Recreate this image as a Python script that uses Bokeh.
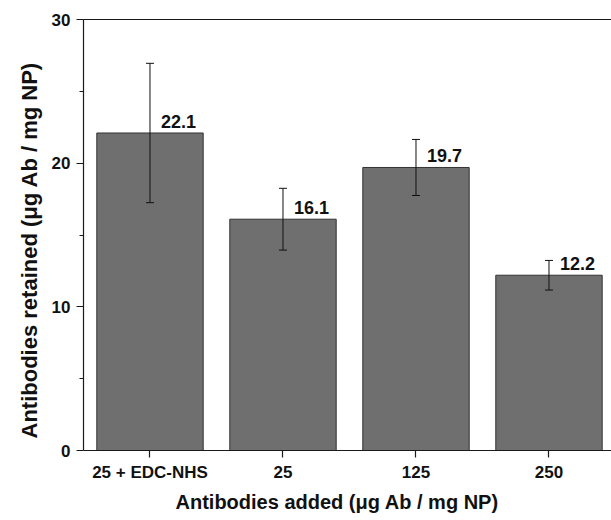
from bokeh.plotting import figure
from bokeh.models import (ColumnDataSource, Range1d, FixedTicker,
                          LinearAxis, Whisker, TeeHead, Title)
from bokeh.core.properties import value
from bokeh.embed import file_html
from bokeh.resources import INLINE

categories = ["25 + EDC-NHS", "25", "125", "250"]
values = [22.1, 16.1, 19.7, 12.2]
errors = [4.85, 2.15, 1.95, 1.03]
value_labels = ["22.1", "16.1", "19.7", "12.2"]
y_ticks = [0, 10, 20, 30]
y_minor_ticks = [5, 15, 25]
x_title = "Antibodies added (\u03bcg Ab / mg NP)"
y_title = "Antibodies retained (\u03bcg Ab / mg NP)"

FONT = "Liberation Sans"
AXC = "#1a1a1a"

xs = list(range(len(categories)))
src = ColumnDataSource(dict(
    x=xs,
    top=values,
    upper=[v + e for v, e in zip(values, errors)],
    lower=[v - e for v, e in zip(values, errors)],
    label=value_labels,
))

p = figure(width=611, height=520, output_backend="svg", toolbar_location=None,
           x_range=Range1d(-0.5, 3.47), y_range=Range1d(0, 30),
           min_border_left=83, min_border_right=0, min_border_top=19, min_border_bottom=70)
p.outline_line_color = None
p.xgrid.visible = False
p.ygrid.visible = False
p.background_fill_color = "white"

p.vbar(x="x", top="top", width=0.8, source=src, fill_color="#6f6f6f",
       line_color="#333333", line_width=1)

w = Whisker(base="x", upper="upper", lower="lower", source=src,
            line_color="#111111", line_width=1, level="overlay",
            upper_head=TeeHead(size=8, line_color="#111111", line_width=1),
            lower_head=TeeHead(size=8, line_color="#111111", line_width=1))
p.add_layout(w)

p.text(x="x", y="top", text="label", source=src, x_offset=11, y_offset=-5,
       text_baseline="bottom", text_align="left",
       text_font=value(FONT), text_font_style="bold", text_font_size="18px",
       text_color="#111111")

# x axis
xa = p.xaxis[0]
xa.ticker = FixedTicker(ticks=xs)
xa.major_label_overrides = {i: c for i, c in zip(xs, categories)}
xa.major_tick_out = 7
xa.major_tick_in = 0
xa.minor_tick_out = 0
xa.major_label_standoff = 5

# y axis
ya = p.yaxis[0]
ya.ticker = FixedTicker(ticks=y_ticks, minor_ticks=y_minor_ticks)
ya.major_tick_out = 7
ya.major_tick_in = 0
ya.minor_tick_out = 4
ya.minor_tick_in = 0
ya.major_label_standoff = 6

for ax in (xa, ya):
    ax.axis_line_color = AXC
    ax.axis_line_width = 1.2
    ax.major_tick_line_color = AXC
    ax.major_tick_line_width = 1.2
    ax.minor_tick_line_color = AXC
    ax.minor_tick_line_width = 1.2
    ax.major_label_text_font = FONT
    ax.major_label_text_font_style = "bold"
    ax.major_label_text_color = "#111111"
    ax.major_label_text_font_size = "17px"

# axis titles, slightly off-centre as in the original
p.add_layout(Title(text=x_title, align="left", offset=92, standoff=8,
                   text_font=FONT, text_font_style="bold", text_font_size="20px",
                   text_color="#111111"), "below")
p.add_layout(Title(text=y_title, align="left", offset=12, standoff=13,
                   text_font=FONT, text_font_style="bold", text_font_size="22px",
                   text_color="#111111"), "left")

top_axis = LinearAxis(ticker=FixedTicker(ticks=[]), major_tick_out=0, major_tick_in=0,
                      minor_tick_out=0, minor_tick_in=0, major_label_standoff=0,
                      axis_line_color=AXC, axis_line_width=1.2,
                      major_label_text_font_size="0px")
p.add_layout(top_axis, "above")

open("out.html", "w").write(file_html(p, INLINE))
